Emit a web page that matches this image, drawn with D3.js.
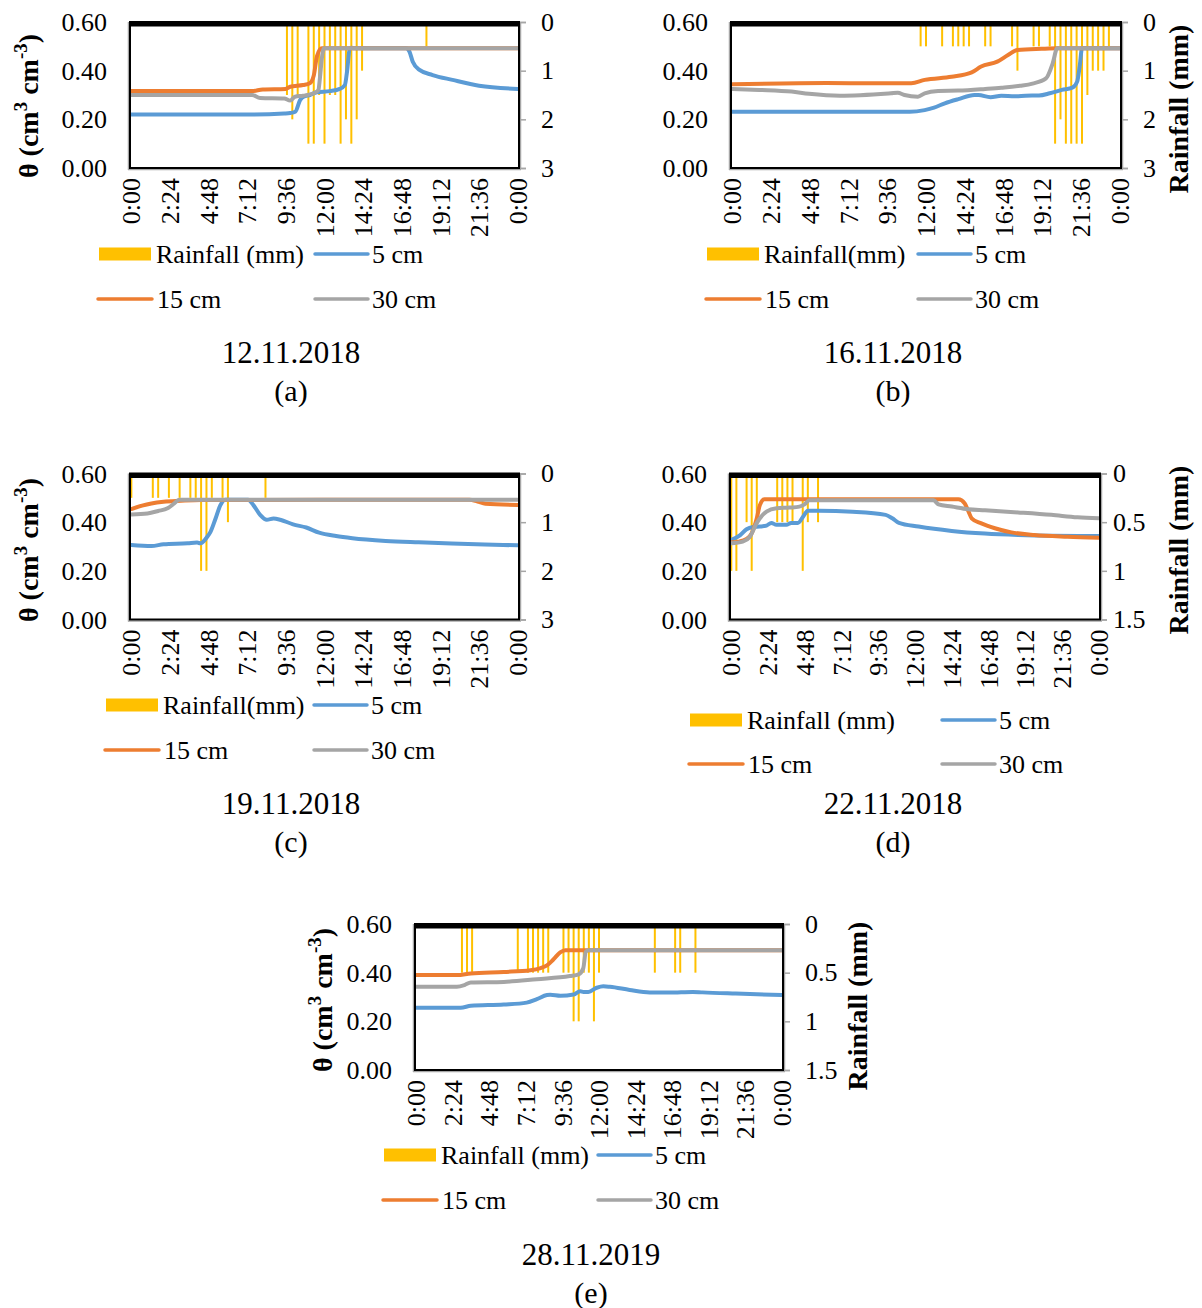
<!DOCTYPE html>
<html>
<head>
<meta charset="utf-8">
<script src="https://cdn.jsdelivr.net/npm/d3@7"></script>
<style>
body { margin: 0; background: #fff; }
svg { display: block; font-family: "Liberation Serif", "Times New Roman", serif; }
</style>
</head>
<body>
<svg id="chart" width="1202" height="1308"></svg>
<script>
// time axis (minutes since midnight) and labels
var tickMinutes = [0, 144, 288, 432, 576, 720, 864, 1008, 1152, 1296, 1440];
var tickLabels = ['0:00', '2:24', '4:48', '7:12', '9:36', '12:00', '14:24', '16:48', '19:12', '21:36', '0:00'];
var thetaTicks = [0, 0.2, 0.4, 0.6];
var rainTicks3 = [0, 1, 2, 3];
var rainTicks15 = [0, 0.5, 1, 1.5];

// (a) 12.11.2018  [minute, value]
var a5 = [[0,0.22],[450,0.22],[570,0.224],[592,0.226],[611,0.231],[629,0.279],[642,0.293],[666,0.30],[691,0.311],[740,0.316],[777,0.325],[796,0.341],[804,0.396],[814,0.49],[820,0.494],[830,0.492],[1024,0.492],[1036,0.48],[1049,0.437],[1074,0.403],[1123,0.382],[1197,0.362],[1296,0.338],[1440,0.325]];
var a15 = [[0,0.316],[450,0.316],[490,0.323],[575,0.325],[592,0.334],[640,0.341],[665,0.348],[680,0.38],[692,0.46],[710,0.492],[1440,0.492]];
var a30 = [[0,0.30],[450,0.30],[480,0.288],[570,0.286],[592,0.277],[610,0.293],[640,0.297],[680,0.307],[697,0.32],[703,0.37],[710,0.45],[718,0.492],[1440,0.492]];
var aRain = [[580,1.5],[600,2],[620,1.5],[660,2.5],[680,2.5],[700,1.5],[720,2.5],[740,1.5],[760,1.5],[780,2.5],[800,2],[820,2.5],[840,2],[860,1],[1100,0.5]];

// (b) 16.11.2018
var b5 = [[0,0.231],[660,0.231],[715,0.238],[750,0.248],[790,0.266],[840,0.283],[900,0.30],[915,0.30],[960,0.291],[1000,0.297],[1050,0.295],[1090,0.297],[1140,0.298],[1180,0.307],[1225,0.321],[1264,0.33],[1282,0.355],[1292,0.423],[1300,0.492],[1440,0.492]];
var b15 = [[0,0.344],[350,0.349],[530,0.348],[665,0.348],[715,0.362],[815,0.375],[890,0.393],[925,0.417],[985,0.437],[1025,0.464],[1060,0.485],[1150,0.49],[1210,0.492],[1440,0.492]];
var b30 = [[0,0.325],[100,0.321],[220,0.314],[285,0.305],[400,0.297],[590,0.307],[615,0.309],[640,0.30],[690,0.293],[715,0.307],[765,0.316],[840,0.318],[940,0.325],[1000,0.33],[1070,0.338],[1116,0.347],[1166,0.368],[1191,0.43],[1208,0.492],[1440,0.492]];
var bRain = [[700,0.5],[720,0.5],[780,0.5],[820,0.5],[840,0.5],[860,0.5],[880,0.5],[940,0.5],[960,0.5],[1040,0.5],[1060,1],[1120,0.5],[1140,0.5],[1180,0.5],[1200,2.5],[1220,2],[1240,2.5],[1260,2.5],[1280,2.5],[1300,2.5],[1320,1.5],[1340,1],[1360,1],[1380,1],[1400,0.5]];

// (c) 19.11.2018
var c5 = [[0,0.306],[75,0.302],[120,0.309],[210,0.313],[245,0.316],[258,0.313],[283,0.34],[295,0.36],[314,0.415],[332,0.47],[350,0.492],[435,0.492],[455,0.47],[480,0.43],[505,0.41],[530,0.415],[555,0.41],[603,0.391],[652,0.378],[700,0.357],[763,0.343],[824,0.334],[948,0.323],[1071,0.317],[1194,0.312],[1317,0.308],[1440,0.305]];
var c15 = [[0,0.454],[40,0.468],[75,0.477],[120,0.484],[185,0.488],[260,0.491],[1260,0.492],[1290,0.485],[1320,0.476],[1440,0.471]];
var c30 = [[0,0.432],[60,0.436],[100,0.446],[135,0.457],[160,0.477],[178,0.492],[1440,0.492]];
var cRain = [[0,0.5],[80,0.5],[100,0.5],[140,0.5],[180,0.5],[220,0.5],[240,0.5],[260,2],[280,2],[300,0.5],[340,0.5],[360,1],[500,0.5]];

// (d) 22.11.2018
var d5 = [[0,0.327],[35,0.347],[60,0.371],[86,0.38],[112,0.382],[138,0.386],[157,0.397],[177,0.389],[216,0.389],[235,0.397],[261,0.397],[280,0.42],[300,0.447],[345,0.447],[475,0.443],[605,0.43],[631,0.416],[657,0.397],[734,0.382],[864,0.364],[994,0.353],[1124,0.347],[1254,0.344],[1440,0.343]];
var d15 = [[0,0.317],[30,0.32],[60,0.331],[80,0.354],[100,0.416],[112,0.47],[130,0.494],[890,0.494],[915,0.477],[930,0.443],[942,0.416],[980,0.395],[1033,0.375],[1098,0.358],[1188,0.347],[1318,0.34],[1440,0.336]];
var d30 = [[0,0.313],[45,0.32],[73,0.34],[99,0.395],[138,0.443],[177,0.457],[228,0.46],[267,0.464],[287,0.473],[306,0.49],[793,0.49],[812,0.473],[864,0.464],[929,0.453],[994,0.449],[1124,0.44],[1254,0.43],[1357,0.42],[1440,0.416]];
var dRain = [[0,1],[20,1],[60,0.5],[80,1],[100,0.5],[180,0.5],[200,0.5],[220,0.5],[240,0.5],[280,1],[300,0.5],[340,0.5]];

// (e) 28.11.2019
var e5 = [[0,0.256],[175,0.256],[215,0.264],[345,0.269],[435,0.277],[475,0.291],[515,0.308],[528,0.309],[568,0.305],[620,0.31],[646,0.324],[659,0.321],[678,0.321],[711,0.338],[737,0.344],[763,0.342],[841,0.329],[920,0.319],[998,0.318],[1089,0.321],[1128,0.319],[1259,0.314],[1440,0.308]];
var e15 = [[0,0.39],[160,0.39],[215,0.397],[345,0.403],[450,0.41],[490,0.419],[515,0.43],[540,0.454],[567,0.483],[587,0.492],[1440,0.492]];
var e30 = [[0,0.342],[160,0.342],[190,0.349],[215,0.36],[345,0.362],[475,0.373],[605,0.386],[640,0.393],[658,0.418],[668,0.486],[678,0.492],[1440,0.492]];
var eRain = [[180,0.5],[200,0.5],[220,0.5],[400,0.5],[440,0.5],[460,0.5],[480,0.5],[500,0.5],[520,0.5],[580,0.5],[600,0.5],[620,1],[640,1],[660,0.5],[680,0.5],[700,1],[720,0.5],[940,0.5],[1020,0.5],[1040,0.5],[1100,0.5]];

var cRainCol = '#FFC000', c5col = '#5B9BD5', c15col = '#ED7D31', c30col = '#A5A5A5';

var panels = [
	{x0:130, x1:519, y0:22, y1:168, rain:aRain, s5:a5, s15:a15, s30:a30, rMax:3, rTicks:rainTicks3, rPad:15,
	 date:'12.11.2018', tag:'(a)', cx:291, dateY:352, leftTitle:28, leftY:106, rightTitle:null,
	 lg:{x1:99, x2:315, y1:254, y2:299, txt:'Rainfall (mm)'}},
	{x0:731, x1:1121, y0:22, y1:168, rain:bRain, s5:b5, s15:b15, s30:b30, rMax:3, rTicks:rainTicks3, rPad:15,
	 date:'16.11.2018', tag:'(b)', cx:893, dateY:352, leftTitle:null, rightTitle:1178, rightY:109,
	 lg:{x1:707, x2:918, y1:254, y2:299, txt:'Rainfall(mm)'}},
	{x0:130, x1:519, y0:473.5, y1:619.5, rain:cRain, s5:c5, s15:c15, s30:c30, rMax:3, rTicks:rainTicks3, rPad:15,
	 date:'19.11.2018', tag:'(c)', cx:291, dateY:803, leftTitle:28, leftY:550, rightTitle:null,
	 lg:{x1:106, x2:314, y1:705, y2:750, txt:'Rainfall(mm)'}},
	{x0:730, x1:1100, y0:473.5, y1:619.5, rain:dRain, s5:d5, s15:d15, s30:d30, rMax:1.5, rTicks:rainTicks15, rPad:6,
	 date:'22.11.2018', tag:'(d)', cx:893, dateY:803, leftTitle:null, rightTitle:1178, rightY:550,
	 lg:{x1:690, x2:942, y1:720, y2:764, txt:'Rainfall (mm)'}},
	{x0:415, x1:783, y0:924, y1:1070, rain:eRain, s5:e5, s15:e15, s30:e30, rMax:1.5, rTicks:rainTicks15, rPad:15,
	 date:'28.11.2019', tag:'(e)', cx:591, dateY:1254, leftTitle:322, leftY:1000, rightTitle:857, rightY:1006,
	 lg:{x1:384, x2:598, y1:1155, y2:1200, txt:'Rainfall (mm)'}}
];

var svg = d3.select('#chart');
var fmt2 = d3.format('.2f');

panels.forEach(function(p) {
	var g = svg.append('g');
	// half-category offset like Excel's "between tick marks"
	var x = d3.scaleLinear().domain([-5, 1445]).range([p.x0, p.x1]);
	var y = d3.scaleLinear().domain([0, 0.6]).range([p.y1, p.y0]);
	var y2 = d3.scaleLinear().domain([0, p.rMax]).range([p.y0, p.y1]);

	// gray axis lines
	g.append('line').attr('x1', p.x0 - 1.5).attr('x2', p.x0 - 1.5).attr('y1', p.y0).attr('y2', p.y1 + 2)
		.attr('stroke', '#a6a6a6').attr('stroke-width', 1.5);
	g.append('line').attr('x1', p.x0 - 2).attr('x2', p.x1 + 2).attr('y1', p.y1 + 1.5).attr('y2', p.y1 + 1.5)
		.attr('stroke', '#a6a6a6').attr('stroke-width', 1.5);

	// secondary axis (reversed), ticks outside
	var rAxis = d3.axisRight(y2).tickValues(p.rTicks).tickSize(6).tickPadding(p.rPad)
		.tickFormat(function(d) { return d; });
	var ra = g.append('g').attr('transform', 'translate(' + (p.x1 + 1) + ',0)').call(rAxis);
	ra.select('.domain').attr('stroke', '#a6a6a6').attr('stroke-width', 1.5);
	ra.selectAll('.tick line').attr('stroke', '#a6a6a6').attr('stroke-width', 1.5);
	ra.selectAll('.tick text').attr('font-size', 26).attr('fill', '#000')
		.attr('font-family', '"Liberation Serif", serif');

	// primary y labels
	g.selectAll('.yl').data(thetaTicks).enter().append('text')
		.attr('x', p.x0 - 23).attr('y', function(d) { return y(d); })
		.attr('dy', '0.35em').attr('text-anchor', 'end').attr('font-size', 26)
		.text(function(d) { return fmt2(d); });

	// x labels, rotated
	g.selectAll('.xl').data(tickMinutes).enter().append('text')
		.attr('transform', function(d) { return 'translate(' + x(d) + ',' + (p.y1 + 10) + ') rotate(-90)'; })
		.attr('dy', '0.35em').attr('text-anchor', 'end').attr('font-size', 26)
		.text(function(d, i) { return tickLabels[i]; });

	// rainfall bars hanging from the top
	g.selectAll('.rain').data(p.rain).enter().append('rect')
		.attr('x', function(d) { return x(d[0]) - 1; })
		.attr('y', p.y0)
		.attr('width', 2)
		.attr('height', function(d) { return y2(d[1]) - p.y0; })
		.attr('fill', cRainCol);

	var line = d3.line()
		.x(function(d) { return x(d[0]); })
		.y(function(d) { return y(d[1]); })
		.curve(d3.curveMonotoneX);

	[[p.s5, c5col], [p.s15, c15col], [p.s30, c30col]].forEach(function(s) {
		g.append('path').attr('d', line(s[0])).attr('fill', 'none')
			.attr('stroke', s[1]).attr('stroke-width', 4)
			.attr('stroke-linejoin', 'round').attr('stroke-linecap', 'round');
	});

	// plot frame
	g.append('rect').attr('x', p.x0).attr('y', p.y0).attr('width', p.x1 - p.x0).attr('height', p.y1 - p.y0)
		.attr('fill', 'none').attr('stroke', '#000').attr('stroke-width', 2);
	g.append('line').attr('x1', p.x0 - 1).attr('x2', p.x1 + 1).attr('y1', p.y0 + 2).attr('y2', p.y0 + 2)
		.attr('stroke', '#000').attr('stroke-width', 5);

	// axis titles
	if (p.leftTitle) {
		var t = g.append('text')
			.attr('transform', 'translate(' + p.leftTitle + ',' + p.leftY + ') rotate(-90)')
			.attr('text-anchor', 'middle').attr('dy', '0.35em')
			.attr('font-size', 28).attr('font-weight', 'bold');
		t.append('tspan').text('θ (cm');
		t.append('tspan').attr('font-size', 19).attr('dy', -11).text('3');
		t.append('tspan').attr('dy', 11).text(' cm');
		t.append('tspan').attr('font-size', 19).attr('dy', -11).text('-3');
		t.append('tspan').attr('dy', 11).text(')');
	}
	if (p.rightTitle) {
		g.append('text')
			.attr('transform', 'translate(' + p.rightTitle + ',' + p.rightY + ') rotate(-90)')
			.attr('text-anchor', 'middle').attr('dy', '0.35em')
			.attr('font-size', 28).attr('font-weight', 'bold')
			.text('Rainfall (mm)');
	}

	// legend
	var lg = p.lg;
	g.append('rect').attr('x', lg.x1).attr('y', lg.y1 - 6.5).attr('width', 52).attr('height', 13).attr('fill', cRainCol);
	g.append('text').attr('x', lg.x1 + 57).attr('y', lg.y1).attr('dy', '0.35em').attr('font-size', 26).text(lg.txt);
	g.append('line').attr('x1', lg.x2).attr('x2', lg.x2 + 53).attr('y1', lg.y1).attr('y2', lg.y1)
		.attr('stroke', c5col).attr('stroke-width', 3.5).attr('stroke-linecap', 'round');
	g.append('text').attr('x', lg.x2 + 57).attr('y', lg.y1).attr('dy', '0.35em').attr('font-size', 26).text('5 cm');
	g.append('line').attr('x1', lg.x1 - 1).attr('x2', lg.x1 + 53).attr('y1', lg.y2).attr('y2', lg.y2)
		.attr('stroke', c15col).attr('stroke-width', 3.5).attr('stroke-linecap', 'round');
	g.append('text').attr('x', lg.x1 + 58).attr('y', lg.y2).attr('dy', '0.35em').attr('font-size', 26).text('15 cm');
	g.append('line').attr('x1', lg.x2).attr('x2', lg.x2 + 53).attr('y1', lg.y2).attr('y2', lg.y2)
		.attr('stroke', c30col).attr('stroke-width', 3.5).attr('stroke-linecap', 'round');
	g.append('text').attr('x', lg.x2 + 57).attr('y', lg.y2).attr('dy', '0.35em').attr('font-size', 26).text('30 cm');

	// caption
	g.append('text').attr('x', p.cx).attr('y', p.dateY).attr('dy', '0.35em').attr('text-anchor', 'middle')
		.attr('font-size', 31).text(p.date);
	g.append('text').attr('x', p.cx).attr('y', p.dateY + 38).attr('dy', '0.35em').attr('text-anchor', 'middle')
		.attr('font-size', 30).text(p.tag);
});
</script>
</body>
</html>
